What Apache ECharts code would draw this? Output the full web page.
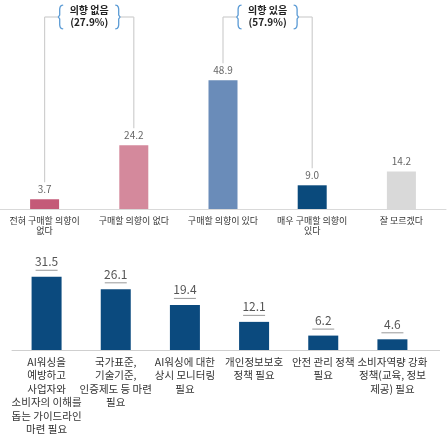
<!DOCTYPE html>
<html><head><meta charset="utf-8">
<script src="https://cdn.jsdelivr.net/npm/echarts@6/dist/echarts.min.js"></script>
<style>html,body{margin:0;padding:0;background:#fff}#c{width:447px;height:436px}</style>
</head><body><div id="c"></div>
<script>
const topCategories = ['전혀 구매할 의향이\n없다', '구매할 의향이 없다', '구매할 의향이 있다', '매우 구매할 의향이\n있다', '잘 모르겠다'];
const topValues = [3.7, 24.2, 48.9, 9.0, 14.2];
const topColors = ['#C45A78', '#D4899C', '#6A8CB9', '#0A4A7C', '#D9D9D9'];
const groupLabels = ['의향 없음', '의향 있음'];
const groupShares = ['27.9%', '57.9%'];
const groupMembers = [[0, 1], [2, 3]];
const bottomCategories = [
  'AI워싱을\n예방하고\n사업자와\n소비자의 이해를\n돕는 가이드라인\n마련 필요',
  '국가표준,\n기술기준,\n인증제도 등 마련\n필요',
  'AI워싱에 대한\n상시 모니터링\n필요',
  '개인정보보호\n정책 필요',
  '안전 관리 정책\n필요',
  '소비자역량 강화\n정책(교육, 정보\n제공) 필요'
];
const bottomValues = [31.5, 26.1, 19.4, 12.1, 6.2, 4.6];
const bottomColor = '#0B4A7E';

const FONT = '"Noto Sans CJK KR", "Noto Sans", sans-serif';
const chart = echarts.init(document.getElementById('c'), null, {renderer: 'canvas'});
const option = {
  backgroundColor: '#fff',
  textStyle: {fontFamily: FONT},
  animation: false,
  grid: [
    {left: 0, right: 1, top: 51, height: 158},
    {left: 12, right: 20, top: 257, height: 99}
  ],
  xAxis: [
    {type: 'category', gridIndex: 0, data: topCategories,
     axisLine: {lineStyle: {color: '#d9d9d9'}}, axisTick: {show: false},
     axisLabel: {interval: 0, fontSize: 9, color: '#333', lineHeight: 10.5, margin: 6, fontFamily: FONT}},
    {type: 'category', gridIndex: 1, data: bottomCategories,
     axisLine: {lineStyle: {color: '#cfcfcf'}}, axisTick: {show: false},
     axisLabel: {interval: 0, fontSize: 10.5, color: '#333', lineHeight: 13.5, margin: 5, fontFamily: FONT}}
  ],
  yAxis: [
    {type: 'value', gridIndex: 0, min: 0, max: 60, show: false},
    {type: 'value', gridIndex: 1, min: 0, max: 40, show: false}
  ],
  series: [
    {type: 'bar', xAxisIndex: 0, yAxisIndex: 0, barWidth: 29,
     data: topValues.map((v, i) => ({value: v, itemStyle: {color: topColors[i]}})),
     label: {show: true, position: 'top', distance: 5, color: '#666', fontSize: 10, fontFamily: FONT,
             formatter: p => Number(p.value).toFixed(1)}},
    {type: 'bar', xAxisIndex: 1, yAxisIndex: 1, barWidth: 30,
     itemStyle: {color: bottomColor},
     data: bottomValues,
     label: {show: true, position: 'top', distance: 5,
             formatter: p => '{v|' + Number(p.value).toFixed(1) + '}\n{u| }',
             rich: {
               v: {fontSize: 12, color: '#555', lineHeight: 14, align: 'center', fontFamily: FONT},
               u: {width: 22, height: 1, lineHeight: 3, backgroundColor: '#999', fontSize: 1, align: 'center'}
             }}}
  ]
};
chart.setOption(option);

function bracePoints(x, top, bot, dir) {
  const mY = (top + bot) / 2;
  return [
    [x + dir * 3.5, top], [x + dir * 1.5, top + 0.6], [x + dir * 0.4, top + 2], [x, top + 4],
    [x, mY - 2], [x - dir * 1.3, mY], [x, mY + 2],
    [x, bot - 4], [x + dir * 0.4, bot - 2], [x + dir * 1.5, bot - 0.6], [x + dir * 3.5, bot]
  ];
}

function buildBrackets() {
  const g = [];
  const lineY = 17;
  const braceTop = 5, braceBot = 29;
  groupMembers.forEach((m, gi) => {
    const pts = m.map(i => chart.convertToPixel({xAxisIndex: 0, yAxisIndex: 0}, [i, topValues[i]]));
    const mid = (pts[0][0] + pts[1][0]) / 2;
    const half = 29.5;
    const lb = mid - half, rb = mid + half;
    pts.forEach(p => {
      g.push({type: 'line', shape: {x1: p[0], y1: lineY, x2: p[0], y2: p[1] - 17},
              style: {stroke: '#cfcfcf', lineWidth: 1.2}, silent: true});
    });
    g.push({type: 'line', shape: {x1: pts[0][0], y1: lineY, x2: lb - 1, y2: lineY},
            style: {stroke: '#cfcfcf', lineWidth: 1.2}, silent: true});
    g.push({type: 'line', shape: {x1: rb + 1, y1: lineY, x2: pts[1][0], y2: lineY},
            style: {stroke: '#cfcfcf', lineWidth: 1.2}, silent: true});
    g.push({type: 'polyline', shape: {points: bracePoints(lb, braceTop, braceBot, 1)},
            style: {stroke: '#5B9BD5', lineWidth: 1.3, fill: null}, silent: true});
    g.push({type: 'polyline', shape: {points: bracePoints(rb, braceTop, braceBot, -1)},
            style: {stroke: '#5B9BD5', lineWidth: 1.3, fill: null}, silent: true});
    g.push({type: 'text', x: mid, y: 10, silent: true,
            style: {text: groupLabels[gi], fill: '#222', fontSize: 10, fontWeight: 'bold', fontFamily: FONT,
                    align: 'center', verticalAlign: 'middle'}});
    g.push({type: 'text', x: mid, y: 22, silent: true,
            style: {text: '(' + groupShares[gi] + ')', fill: '#222', fontSize: 10, fontWeight: 'bold', fontFamily: FONT,
                    align: 'center', verticalAlign: 'middle'}});
  });
  // extend the lower baseline to the right edge as in the reference
  const base = chart.convertToPixel({xAxisIndex: 1, yAxisIndex: 1}, [bottomCategories.length - 1, 0]);
  const gridRect = chart.getModel().getComponent('grid', 1).coordinateSystem.getRect();
  g.push({type: 'line', shape: {x1: gridRect.x + gridRect.width, y1: base[1] + 0.5, x2: 440, y2: base[1] + 0.5},
          style: {stroke: '#cfcfcf', lineWidth: 1}, silent: true});
  chart.setOption({graphic: g});
}
buildBrackets();
</script>
</body></html>
